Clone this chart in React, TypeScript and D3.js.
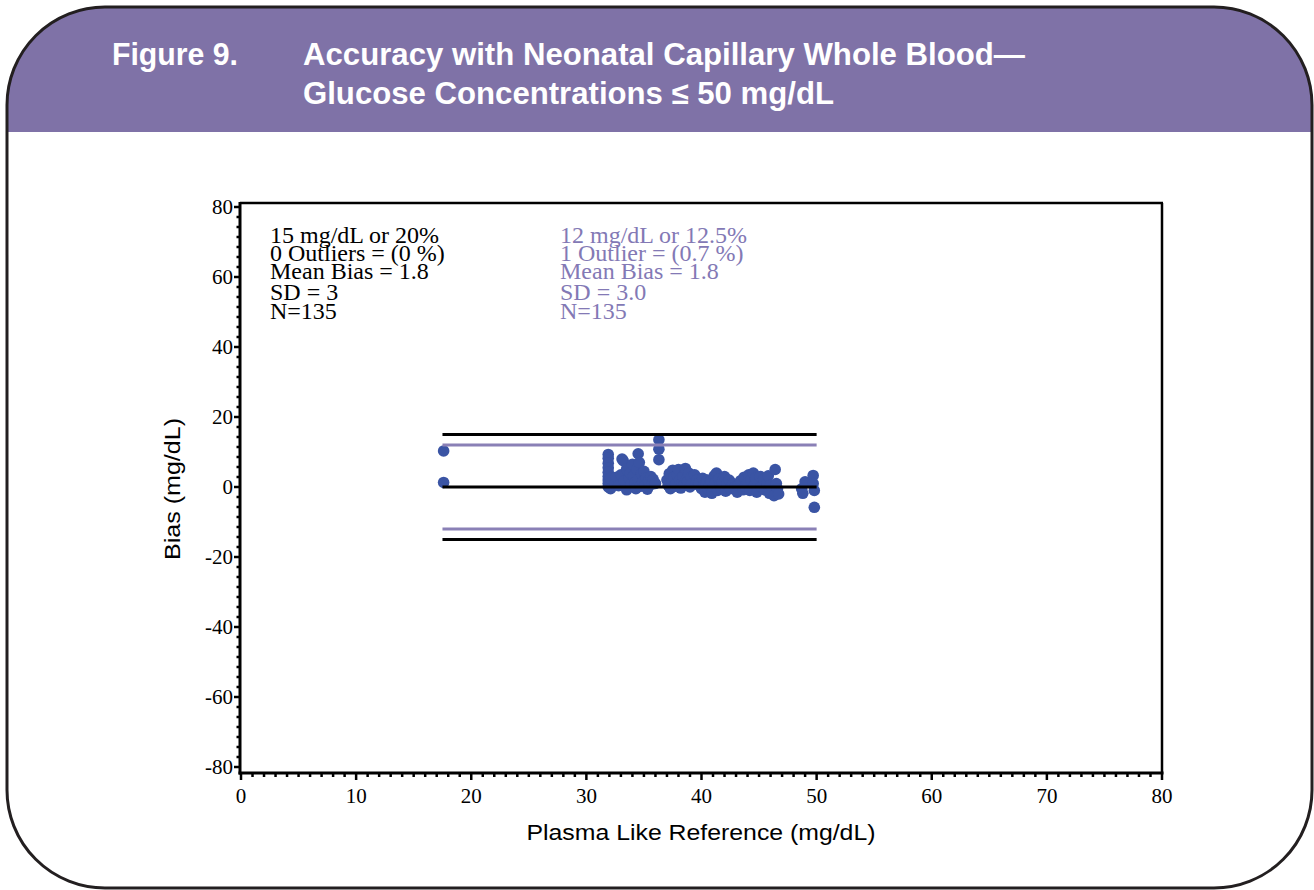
import React from 'react';
import * as d3 from 'd3';

const FIGURE_LABEL = 'Figure 9.';
const TITLE_LINES = ['Accuracy with Neonatal Capillary Whole Blood—', 'Glucose Concentrations ≤ 50 mg/dL'];
const X_TICKS = [0, 10, 20, 30, 40, 50, 60, 70, 80];
const Y_TICKS = [-80, -60, -40, -20, 0, 20, 40, 60, 80];
const X_LABEL = 'Plasma Like Reference (mg/dL)';
const Y_LABEL = 'Bias (mg/dL)';

const LIMIT_BLACK = [15, 0, -15];
const LIMIT_PURPLE = [12, -12];
const LIMIT_RANGE = [17.5, 50];

const STATS_BLACK = ['15 mg/dL or 20%', '0 Outliers = (0 %)', 'Mean Bias = 1.8', 'SD = 3', 'N=135'];
const STATS_PURPLE = ['12 mg/dL or 12.5%', '1 Outlier = (0.7 %)', 'Mean Bias = 1.8', 'SD = 3.0', 'N=135'];

// Reference glucose (mg/dL)
const REF = [
  17.6, 17.6,
  31.9, 31.9, 31.9, 31.9, 31.9, 31.9, 31.9, 31.9, 31.9, 32.1, 32.1,
  32.5, 32.6, 32.8, 33.0, 33.1, 33.2, 33.3, 33.5, 33.5, 33.7, 33.8, 33.9,
  34.0, 34.1, 34.2, 34.3, 34.4, 34.5, 34.5, 34.6, 34.7, 34.8, 34.9, 35.0, 35.1, 35.2, 35.3, 35.4, 35.6, 35.7, 35.8, 36.0,
  36.3, 36.3, 36.3,
  37.0, 37.1, 37.2, 37.3, 37.4, 37.5, 37.6, 37.7, 37.8, 37.9, 38.0, 38.1, 38.2, 38.3, 38.4, 38.5, 38.6, 38.7, 38.8, 38.9, 39.0, 39.1, 39.2, 39.4, 39.5, 39.6,
  39.8, 40.0, 40.1, 40.2, 40.3, 40.4, 40.5, 40.6, 40.7, 40.8, 40.9, 41.0, 41.1, 41.2, 41.3, 41.4, 41.5, 41.6, 41.7, 41.8, 42.0, 42.1, 42.2,
  42.4, 42.5, 42.7, 42.9, 43.1, 43.2, 43.4, 43.6, 43.7, 43.8, 44.0, 44.1, 44.2, 44.3, 44.5, 44.6, 44.7, 44.8, 45.1, 45.2,
  45.4, 45.5, 45.7, 45.8, 45.9, 46.0, 46.3, 46.4, 46.5, 46.6, 46.7,
  48.7, 48.8, 49.0, 49.7, 49.7, 49.8, 49.8,
];

// Bias (mg/dL)
const BIAS = [
  10.3, 1.3,
  9.3, 8.2, 6.8, 5.5, 4.2, 3.0, 2.0, 1.0, 0.0, -0.5, 2.5,
  1.0, 2.8, 0.4, 3.5, 8.0, 7.5, 1.8, 5.2, -0.8, 2.5, 4.0, 0.8,
  6.5, 3.2, 1.2, -0.5, 5.0, 9.5, 2.0, 7.0, 0.2, 3.8, 1.5, 4.5, 0.5, 2.6, -0.6, 1.8, 3.0, 0.8, 2.2, 1.0,
  13.5, 10.8, 7.8,
  2.0, 0.5, 3.8, -0.5, 1.5, 4.8, 2.8, 0.2, 1.0, 3.5, 5.0, 2.0, -0.3, 1.2, 3.0, 0.5, 5.3, 2.2, 1.5, 4.0, 0.0, 2.8, 1.0, 3.5, 0.8, 2.0,
  1.2, -0.5, 2.5, 0.3, -1.5, 1.0, 2.0, -0.8, 0.5, 1.8, -1.8, 0.0, 3.2, 1.2, 4.0, -1.0, 2.2, 0.6, -0.3, 1.5, 3.0, -1.2, 0.8,
  2.0, -0.5, 1.0, 0.0, -1.5, 0.5, 1.8, -0.8, 2.8, 0.2, 1.2, 3.5, -1.0, 2.0, 4.0, 0.5, 2.5, -1.5, 3.0, 0.0,
  2.2, -0.8, 1.0, 3.2, -1.8, 0.5, -2.5, 5.0, 1.0, -0.5, -2.0,
  -0.5, -1.8, 1.5, 3.3, 1.0, -1.0, -5.8,
];

const PURPLE_BAND = '#7f72a7';
const PURPLE_LINE = '#8a80b6';
const PURPLE_TEXT = '#8379b5';
const DOT = '#3a54a4';

export default function App() {
  const W = 1314;
  const H = 890;
  const x = d3.scaleLinear().domain([0, 80]).range([241, 1162]);
  const y = d3.scaleLinear().domain([-80, 80]).range([767, 207]);

  const frameL = 240, frameR = 1162, frameT = 203, frameB = 773;

  const xMinor = d3.range(0, 81, 1).filter((v) => v % 10 !== 0);
  const yMinor: number[] = [];
  for (let i = 0; i < Y_TICKS.length - 1; i++) {
    const a = Y_TICKS[i], b = Y_TICKS[i + 1];
    for (let k = 1; k < 7; k++) yMinor.push(a + ((b - a) * k) / 7);
  }

  const boxL = 7, boxR = 1312, boxT = 7, boxB = 888, r = 98;
  const boxPath = `M${boxL + r},${boxT} H${boxR - r} A${r},${r} 0 0 1 ${boxR},${boxT + r} V${boxB - r} A${r},${r} 0 0 1 ${boxR - r},${boxB} H${boxL + r} A${r},${r} 0 0 1 ${boxL},${boxB - r} V${boxT + r} A${r},${r} 0 0 1 ${boxL + r},${boxT} Z`;

  const serif = '"Liberation Serif", "Times New Roman", serif';
  const sans = '"Liberation Sans", Arial, sans-serif';

  return (
    <svg width={W} height={H} style={{ position: 'absolute', left: 0, top: 0, background: '#fff' }}>
      <defs>
        <clipPath id="boxClip">
          <path d={boxPath} />
        </clipPath>
      </defs>
      <rect x={0} y={0} width={W} height={H} fill="#fff" />
      <rect x={0} y={0} width={W} height={132} fill={PURPLE_BAND} clipPath="url(#boxClip)" />
      <path d={boxPath} fill="none" stroke="#231f20" strokeWidth={3} />

      {/* Title */}
      <text x={112} y={65} fill="#fff" fontFamily={sans} fontWeight="bold" fontSize={31} textLength={126} lengthAdjust="spacingAndGlyphs">{FIGURE_LABEL}</text>
      <text x={303} y={65} fill="#fff" fontFamily={sans} fontWeight="bold" fontSize={31} textLength={722} lengthAdjust="spacingAndGlyphs">{TITLE_LINES[0]}</text>
      <text x={303} y={104} fill="#fff" fontFamily={sans} fontWeight="bold" fontSize={31} textLength={531} lengthAdjust="spacingAndGlyphs">{TITLE_LINES[1]}</text>

      {/* Points */}
      <g>
        {REF.map((rv, i) => (
          <circle key={i} cx={x(rv)} cy={y(BIAS[i])} r={5.8} fill={DOT} />
        ))}
      </g>

      {/* Limit lines */}
      {LIMIT_PURPLE.map((v) => (
        <line key={'p' + v} x1={x(LIMIT_RANGE[0])} x2={x(LIMIT_RANGE[1])} y1={y(v)} y2={y(v)} stroke={PURPLE_LINE} strokeWidth={3} />
      ))}
      {LIMIT_BLACK.map((v) => (
        <line key={'b' + v} x1={x(LIMIT_RANGE[0])} x2={x(LIMIT_RANGE[1])} y1={y(v)} y2={y(v)} stroke="#000" strokeWidth={3} />
      ))}

      {/* Frame */}
      <line x1={frameL} x2={frameR + 1} y1={frameT} y2={frameT} stroke="#000" strokeWidth={2.5} />
      <line x1={frameR} x2={frameR} y1={frameT} y2={frameB} stroke="#000" strokeWidth={2.5} />
      <line x1={frameL} x2={frameL} y1={frameT - 1} y2={frameB + 1.5} stroke="#000" strokeWidth={3} />
      <line x1={frameL - 1.5} x2={frameR + 1.5} y1={frameB} y2={frameB} stroke="#000" strokeWidth={3} />

      {/* Y ticks */}
      {Y_TICKS.map((v) => (
        <g key={'yt' + v}>
          <line x1={frameL - 6} x2={frameL} y1={y(v)} y2={y(v)} stroke="#000" strokeWidth={2.5} />
          <text x={frameL - 7} y={y(v) + 7} textAnchor="end" fontFamily={serif} fontSize={21} fill="#000">{v}</text>
        </g>
      ))}
      {yMinor.map((v, i) => (
        <line key={'ym' + i} x1={frameL - 3.5} x2={frameL} y1={y(v)} y2={y(v)} stroke="#000" strokeWidth={2.5} />
      ))}

      {/* X ticks */}
      {X_TICKS.map((v) => (
        <g key={'xt' + v}>
          <line x1={x(v)} x2={x(v)} y1={frameB} y2={frameB + 7} stroke="#000" strokeWidth={2.5} />
          <text x={x(v)} y={803} textAnchor="middle" fontFamily={serif} fontSize={21} fill="#000">{v}</text>
        </g>
      ))}
      {xMinor.map((v) => (
        <line key={'xm' + v} x1={x(v)} x2={x(v)} y1={frameB} y2={frameB + 4} stroke="#000" strokeWidth={2.5} />
      ))}

      {/* Axis labels */}
      <text x={701} y={840} textAnchor="middle" fontFamily={sans} fontSize={22} fill="#000" textLength={349} lengthAdjust="spacingAndGlyphs">{X_LABEL}</text>
      <text transform="translate(180,489) rotate(-90)" textAnchor="middle" fontFamily={sans} fontSize={22} fill="#000" textLength={142} lengthAdjust="spacingAndGlyphs">{Y_LABEL}</text>

      {/* Stats */}
      {STATS_BLACK.map((s, i) => (
        <text key={'sb' + i} x={270} y={[243, 261, 279, 300, 319][i]} fontFamily={serif} fontSize={24} fill="#000">{s}</text>
      ))}
      {STATS_PURPLE.map((s, i) => (
        <text key={'sp' + i} x={560} y={[243, 261, 279, 300, 319][i]} fontFamily={serif} fontSize={24} fill={PURPLE_TEXT}>{s}</text>
      ))}
    </svg>
  );
}
